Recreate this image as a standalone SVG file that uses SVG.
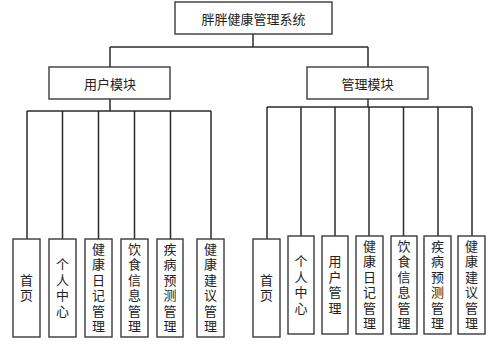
<svg xmlns="http://www.w3.org/2000/svg" width="499" height="344" viewBox="0 0 499 344">
<style>
rect{fill:#fff;stroke:#3a3a3a;stroke-width:1.4}
.c line{stroke:#2a2a2a;stroke-width:1.5}
text{font-family:"Noto Sans CJK SC","Noto Sans",sans-serif;fill:#222;text-anchor:middle}
.h{font-size:13px;dominant-baseline:central}
.v{font-size:13px;writing-mode:vertical-rl;letter-spacing:2.5px}
</style>
<rect x="0" y="0" width="499" height="344" style="fill:#fff;stroke:none"/>
<g class="c">
<line x1="253" y1="34" x2="253" y2="47"/>
<line x1="110" y1="47" x2="368" y2="47"/>
<line x1="110" y1="47" x2="110" y2="67"/>
<line x1="368" y1="47" x2="368" y2="67"/>
<line x1="110" y1="99" x2="110" y2="111"/>
<line x1="27" y1="111" x2="211" y2="111"/>
<line x1="27" y1="111" x2="27" y2="239"/>
<line x1="62.5" y1="111" x2="62.5" y2="239"/>
<line x1="98.5" y1="111" x2="98.5" y2="239"/>
<line x1="134.5" y1="111" x2="134.5" y2="239"/>
<line x1="170.5" y1="111" x2="170.5" y2="239"/>
<line x1="211" y1="111" x2="211" y2="239"/>
<line x1="368" y1="99" x2="368" y2="107"/>
<line x1="267" y1="107" x2="472" y2="107"/>
<line x1="267" y1="107" x2="267" y2="239"/>
<line x1="301" y1="107" x2="301" y2="236"/>
<line x1="335" y1="107" x2="335" y2="236"/>
<line x1="369" y1="107" x2="369" y2="236"/>
<line x1="403.5" y1="107" x2="403.5" y2="236"/>
<line x1="438" y1="107" x2="438" y2="236"/>
<line x1="472" y1="107" x2="472" y2="236"/>
</g>
<g id="root"><rect x="175" y="2" width="157" height="32"/><text class="h" x="253.5" y="18.5">胖胖健康管理系统</text></g>
<g id="user"><rect x="49" y="67" width="121" height="32"/><text class="h" x="110" y="83.5">用户模块</text></g>
<g id="admin"><rect x="307" y="67" width="121" height="32"/><text class="h" x="367.5" y="83.5">管理模块</text></g>

<g id="u1"><rect x="13" y="239" width="27" height="98"/><text class="v" x="26.5" y="289">首页</text></g>
<g id="u2"><rect x="49" y="239" width="27" height="98"/><text class="v" x="62.5" y="289">个人中心</text></g>
<g id="u3"><rect x="85" y="239" width="27" height="98"/><text class="v" x="98.5" y="289">健康日记管理</text></g>
<g id="u4"><rect x="121" y="239" width="27" height="98"/><text class="v" x="134.5" y="289">饮食信息管理</text></g>
<g id="u5"><rect x="157" y="239" width="26" height="98"/><text class="v" x="170" y="289">疾病预测管理</text></g>
<g id="u6"><rect x="197" y="239" width="27" height="98"/><text class="v" x="210.5" y="289">健康建议管理</text></g>

<g id="a1"><rect x="253" y="239" width="27" height="98"/><text class="v" x="266.5" y="289">首页</text></g>
<g id="a2"><rect x="288" y="236" width="26" height="98"/><text class="v" x="301" y="286">个人中心</text></g>
<g id="a3"><rect x="322" y="236" width="26" height="98"/><text class="v" x="335" y="286">用户管理</text></g>
<g id="a4"><rect x="356" y="236" width="27" height="98"/><text class="v" x="369.5" y="286">健康日记管理</text></g>
<g id="a5"><rect x="391" y="236" width="26" height="98"/><text class="v" x="404" y="286">饮食信息管理</text></g>
<g id="a6"><rect x="424" y="236" width="27" height="98"/><text class="v" x="437.5" y="286">疾病预测管理</text></g>
<g id="a7"><rect x="458" y="236" width="27" height="98"/><text class="v" x="471.5" y="286">健康建议管理</text></g>
</svg>
